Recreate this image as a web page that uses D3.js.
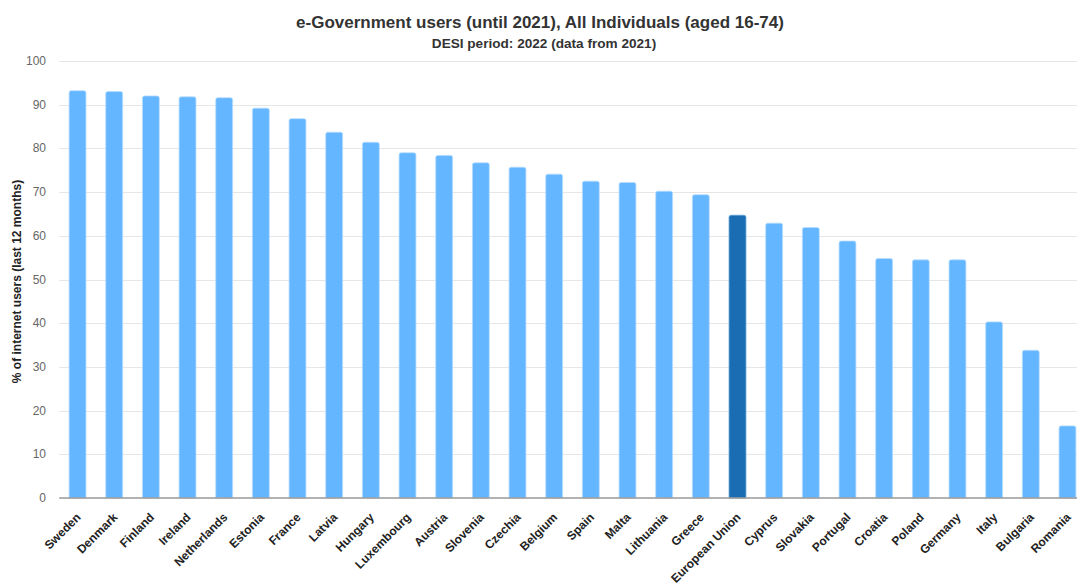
<!DOCTYPE html>
<html>
<head>
<meta charset="utf-8">
<script src="https://cdn.jsdelivr.net/npm/d3@7"></script>
<style>
  html, body { margin: 0; padding: 0; background: #fff; overflow: hidden; }
  text { font-family: "Liberation Sans", Arial, sans-serif; }
</style>
</head>
<body>
<svg id="chart" width="1077" height="588"></svg>
<script>
const categories = ["Sweden","Denmark","Finland","Ireland","Netherlands","Estonia","France","Latvia","Hungary","Luxembourg","Austria","Slovenia","Czechia","Belgium","Spain","Malta","Lithuania","Greece","European Union","Cyprus","Slovakia","Portugal","Croatia","Poland","Germany","Italy","Bulgaria","Romania"];
const values = [93.2,93.0,92.0,91.8,91.6,89.2,86.8,83.7,81.4,79.0,78.4,76.7,75.7,74.1,72.5,72.2,70.2,69.4,64.7,62.9,61.9,58.8,54.8,54.5,54.5,40.3,33.8,16.5];
const highlight = ["European Union"];
const yTicks = [0,10,20,30,40,50,60,70,80,90,100];
const titleText = "e-Government users (until 2021), All Individuals (aged 16-74)";
const subtitleText = "DESI period: 2022 (data from 2021)";
const yAxisTitle = "% of internet users (last 12 months)";

(function () {
const svg = d3.select("#chart");
const pLeft = 59.2, pRight = 1085.8, pTop = 61, pBottom = 498;

const x = d3.scaleBand().domain(categories).range([pLeft, pRight]).paddingInner(0.54).paddingOuter(0.27);
const y = d3.scaleLinear().domain([0, 100]).range([pBottom, pTop]);

// gridlines
svg.append("g").selectAll("line").data(yTicks.filter(d => d > 0)).join("line")
  .attr("x1", pLeft).attr("x2", 1077)
  .attr("y1", d => Math.round(y(d)) + 0.5).attr("y2", d => Math.round(y(d)) + 0.5)
  .attr("stroke", "#e6e6e6").attr("stroke-width", 1);

// y tick labels
svg.append("g").selectAll("text").data(yTicks).join("text")
  .attr("x", 46).attr("y", d => y(d) + 4)
  .attr("text-anchor", "end").attr("font-size", 12).attr("fill", "#666")
  .text(d => d);

// bars with rounded tops
const r = 2;
svg.append("g").selectAll("path").data(categories).join("path")
  .attr("d", (c, i) => {
    const x0 = x(c), w = x.bandwidth(), y0 = y(values[i]), y1 = y(0);
    return `M${x0},${y1}V${y0 + r}Q${x0},${y0} ${x0 + r},${y0}H${x0 + w - r}Q${x0 + w},${y0} ${x0 + w},${y0 + r}V${y1}Z`;
  })
  .attr("fill", c => highlight.includes(c) ? "#1a6db3" : "#63b6ff")
  .attr("stroke", c => highlight.includes(c) ? "#5a9fd6" : "#b5dcff")
  .attr("stroke-width", 0.8);

// baseline
svg.append("line").attr("x1", pLeft).attr("x2", 1077)
  .attr("y1", y(0)).attr("y2", y(0))
  .attr("stroke", "#999").attr("stroke-width", 1.5);

// x labels
svg.append("g").selectAll("text").data(categories).join("text")
  .attr("transform", c => `translate(${x(c) + x.bandwidth() / 2 + 4},${pBottom + 20}) rotate(-45)`)
  .attr("text-anchor", "end").attr("font-size", 12).attr("font-weight", "bold").attr("fill", "#222")
  .text(c => c);

// y axis title
svg.append("text")
  .attr("transform", `translate(21,${(pTop + pBottom) / 2 + 2}) rotate(-90)`)
  .attr("text-anchor", "middle").attr("font-size", 12).attr("font-weight", "bold").attr("fill", "#222")
  .text(yAxisTitle);

// titles
svg.append("text").attr("x", 540).attr("y", 28).attr("text-anchor", "middle")
  .attr("font-size", 17).attr("font-weight", "bold").attr("fill", "#333").text(titleText);
svg.append("text").attr("x", 544).attr("y", 48).attr("text-anchor", "middle")
  .attr("font-size", 13.6).attr("font-weight", "bold").attr("fill", "#333").text(subtitleText);
})();
</script>
</body>
</html>
